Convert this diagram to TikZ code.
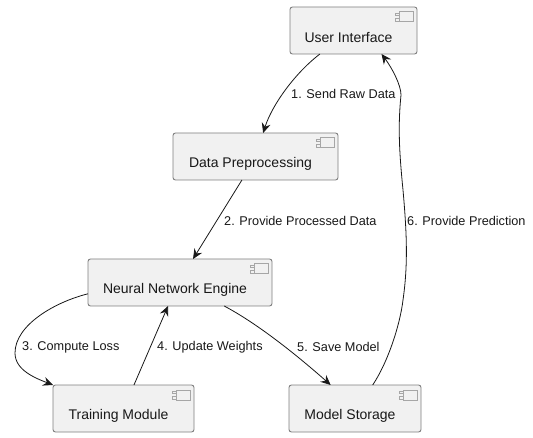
\documentclass[tikz,border=0pt]{standalone}
\usepackage{fontspec}
\setmainfont{Liberation Sans}
\usetikzlibrary{arrows.meta}
\definecolor{boxFill}{HTML}{F1F1F1}
\definecolor{boxLine}{HTML}{7F7F7F}
\definecolor{iconLine}{HTML}{A6A6A6}
\definecolor{inkColor}{HTML}{181818}
\tikzset{
component node/.style={draw=boxLine,fill=boxFill,line width=.9pt,rounded corners=2.5pt,inner sep=0,outer sep=0,minimum height=47pt},
component name/.style={inner sep=0,text=inkColor,font=\fontsize{14}{16}\selectfont},
icon body/.style={draw=iconLine,fill=boxFill,line width=1pt,inner sep=0,minimum width=14pt,minimum height=10pt},
icon tab/.style={draw=iconLine,fill=boxFill,line width=.8pt,inner sep=0,minimum width=4pt,minimum height=2.5pt},
link/.style={draw=inkColor,line width=.8pt},
link tip/.style={link,-{Stealth[length=10pt,width=9pt,inset=3.5pt]}},
link label/.style={inner sep=0,anchor=west,text=inkColor,font=\fontsize{12.7}{15}\selectfont},
}
\begin{document}
\begin{tikzpicture}[x=1pt,y=-1pt]
        \useasboundingbox (0,0) rectangle (533,438);
        \foreach \n/\x/\y/\w/\t in {ui/353.5/30.5/127/User Interface,dp/255.5/156.5/165/Data Preprocessing,nn/180/282.5/184/Neural Network Engine,tm/123.5/408.5/141/Training Module,ms/355/408.5/132/Model Storage}  {
            \node[component node,minimum width=\w pt] (\n) at (\x,\y) {};
            \node[component name] (\n name) at ([xshift=-5pt,yshift=-7pt]\n.center) {\t};
            \node[icon body] (\n icon) at ([xshift=-11pt,yshift=-10pt]\n.north east) {};
            \node[icon tab] (\n tab a) at ([xshift=-1pt,yshift=-2.7pt]\n icon.north west) {};
            \node[icon tab] (\n tab b) at ([xshift=-1pt,yshift=2.7pt]\n icon.south west) {};
        }
        \draw[link tip] (ui.215) .. controls (295,73) and (272,105) .. (dp.72);
        \draw[link tip] (dp.240) -- (nn.61);
        \draw[link tip] (nn.187) .. controls (55,302) and (15,325) .. (15,353) .. controls (15,370) and (35,378) .. (tm.north west);
        \draw[link tip] (tm.66) -- (nn.243);
        \draw[link tip] (nn.332) .. controls (260,325) and (300,358) .. (ms.136);
        \draw[link tip] (ms.53) .. controls (388,362) and (400,325) .. (403,300) .. controls (408,265) and (407,235) .. (403,190) .. controls (399,150) and (398,125) .. (401,95) .. controls (401,85) and (392,68) .. (ui.320);
        \node[link label] (l1) at (291,94) {1. Send Raw Data};
        \node[link label] (l2) at (224,220.5) {2. Provide Processed Data};
        \node[link label] (l3) at (22,347) {3. Compute Loss};
        \node[link label] (l4) at (157,347) {4. Update Weights};
        \node[link label] (l5) at (297,347) {5. Save Model};
        \node[link label] (l6) at (407,220.5) {6. Provide Prediction};
    \end{tikzpicture}
\end{document}
